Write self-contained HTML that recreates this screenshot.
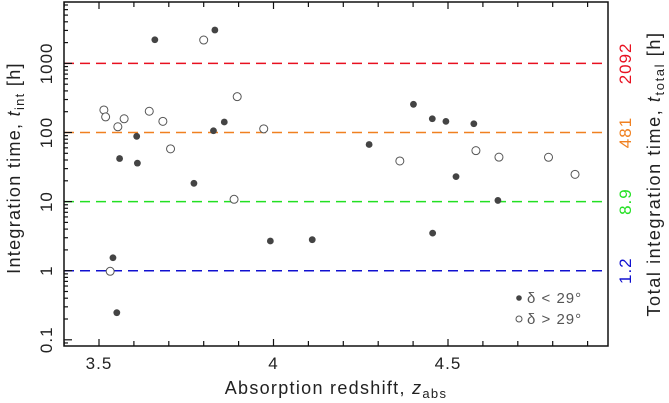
<!DOCTYPE html>
<html><head><meta charset="utf-8"><style>
body{margin:0;background:#fff}
svg{display:block;font-family:"Liberation Sans","DejaVu Sans",sans-serif}
</style></head><body>
<svg id="c" width="669" height="403"></svg>
<script>
const filledZ=[3.660,3.832,3.828,3.859,3.608,3.559,3.610,3.772,3.540,3.551,3.991,4.111,4.401,4.455,4.494,4.574,4.274,4.523,4.643,4.456];
const filledT=[2200,3040,106,142,88,42,36,18.4,1.54,0.247,2.69,2.81,256,158,145,134,67,23,10.4,3.5];
const openZ=[3.514,3.519,3.554,3.572,3.644,3.683,3.705,3.800,3.896,3.972,3.887,3.532,4.362,4.580,4.646,4.788,4.864];
const openT=[212,168,121,158,203,145,58,2180,330,113,10.8,0.98,38.7,54.6,44,43.8,24.8];
const refLevels=[1000,100,10,1];
const refLabels=["2092","481","8.9","1.2"];
const refColors=["#e81020","#f08020","#22e022","#1010d0"];
const xTicks=[3.5,4,4.5];
const yTicks=[0.1,1,10,100,1000];
const yTickLabels=["0.1","1","10","100","1000"];

const L=64,R=608,T=2,B=346;
const x=z=>99+(z-3.5)*349;
const y=v=>270.7-Math.log10(v)*69.1;
const NS="http://www.w3.org/2000/svg";
const svg=document.getElementById('c');
function mk(tag,at,parent){const e=document.createElementNS(NS,tag);for(const k in at)e.setAttribute(k,at[k]);(parent||svg).appendChild(e);return e;}

refLevels.forEach((v,i)=>{
  const ln=mk('line',{x1:L,x2:R,y1:y(v),y2:y(v),stroke:refColors[i],'stroke-width':1.5,'stroke-dasharray':'10,6'});
  
  
  const t=mk('text',{x:0,y:0,transform:`translate(631,${y(v)}) rotate(-90)`,'text-anchor':'middle','font-size':17,'letter-spacing':1,fill:refColors[i]});
  t.textContent=refLabels[i];
  
  
});

const fr=mk('rect',{x:L,y:T,width:R-L,height:B-T,fill:'none',stroke:'#111','stroke-width':1.5});



for(let k=34;k<=49;k++){const z=k/10;const px=x(z);if(px<L||px>R)continue;
  const len=(k%5===0)?7:5;
  mk('line',{x1:px,x2:px,y1:B,y2:B-len,stroke:'#111','stroke-width':1.2});
  mk('line',{x1:px,x2:px,y1:T,y2:T+len,stroke:'#111','stroke-width':1.2});
}
xTicks.forEach(z=>{const t=mk('text',{x:x(z),y:369,'text-anchor':'middle','font-size':17,'letter-spacing':1,fill:'#222'});t.textContent=String(z);
  
  });
for(let d=-2;d<=4;d++){for(let m=1;m<=9;m++){const v=m*Math.pow(10,d);const py=y(v);if(py<T||py>B)continue;
  mk('line',{x1:L,x2:L+(m===1?8:4),y1:py,y2:py,stroke:'#111','stroke-width':1.2});}}
yTicks.forEach((v,i)=>{const t=mk('text',{x:0,y:0,transform:`translate(52,${y(v)}) rotate(-90)`,'text-anchor':'middle','font-size':17,'letter-spacing':1,fill:'#222'});t.textContent=yTickLabels[i];
  
  });

filledZ.forEach((z,i)=>{const c=mk('circle',{cx:x(z),cy:y(filledT[i]),r:3.4,fill:'#444'});
  
  });
openZ.forEach((z,i)=>{const c=mk('circle',{cx:x(z),cy:y(openT[i]),r:4,fill:'#fff',stroke:'#555','stroke-width':1});
  
  });
</script>
<svg width="669" height="403" style="position:absolute;left:0;top:0">
<g font-family="Liberation Sans,DejaVu Sans,sans-serif" fill="#222">
<text x="336" y="394" text-anchor="middle" font-size="18" letter-spacing="1.3">Absorption redshift, <tspan font-style="italic">z</tspan><tspan font-size="13" dy="4">abs</tspan></text>
<text transform="translate(20,168) rotate(-90)" text-anchor="middle" font-size="18" letter-spacing="1.3">Integration time, <tspan font-style="italic">t</tspan><tspan font-size="13" dy="4">int</tspan><tspan dy="-4"> [h]</tspan></text>
<text transform="translate(660,174) rotate(-90)" text-anchor="middle" font-size="18" letter-spacing="1.6">Total integration time, <tspan font-style="italic">t</tspan><tspan font-size="13" dy="4">total</tspan><tspan dy="-4"> [h]</tspan></text>
<g fill="#555" font-size="15" letter-spacing="1">
<circle cx="519" cy="298" r="2.8" fill="#444"/>
<text x="527" y="303">δ &lt; 29°</text>
<circle cx="519" cy="319" r="3" fill="#fff" stroke="#555"/>
<text x="527" y="324">δ &gt; 29°</text>
</g>
</g>
</svg>
</body></html>
